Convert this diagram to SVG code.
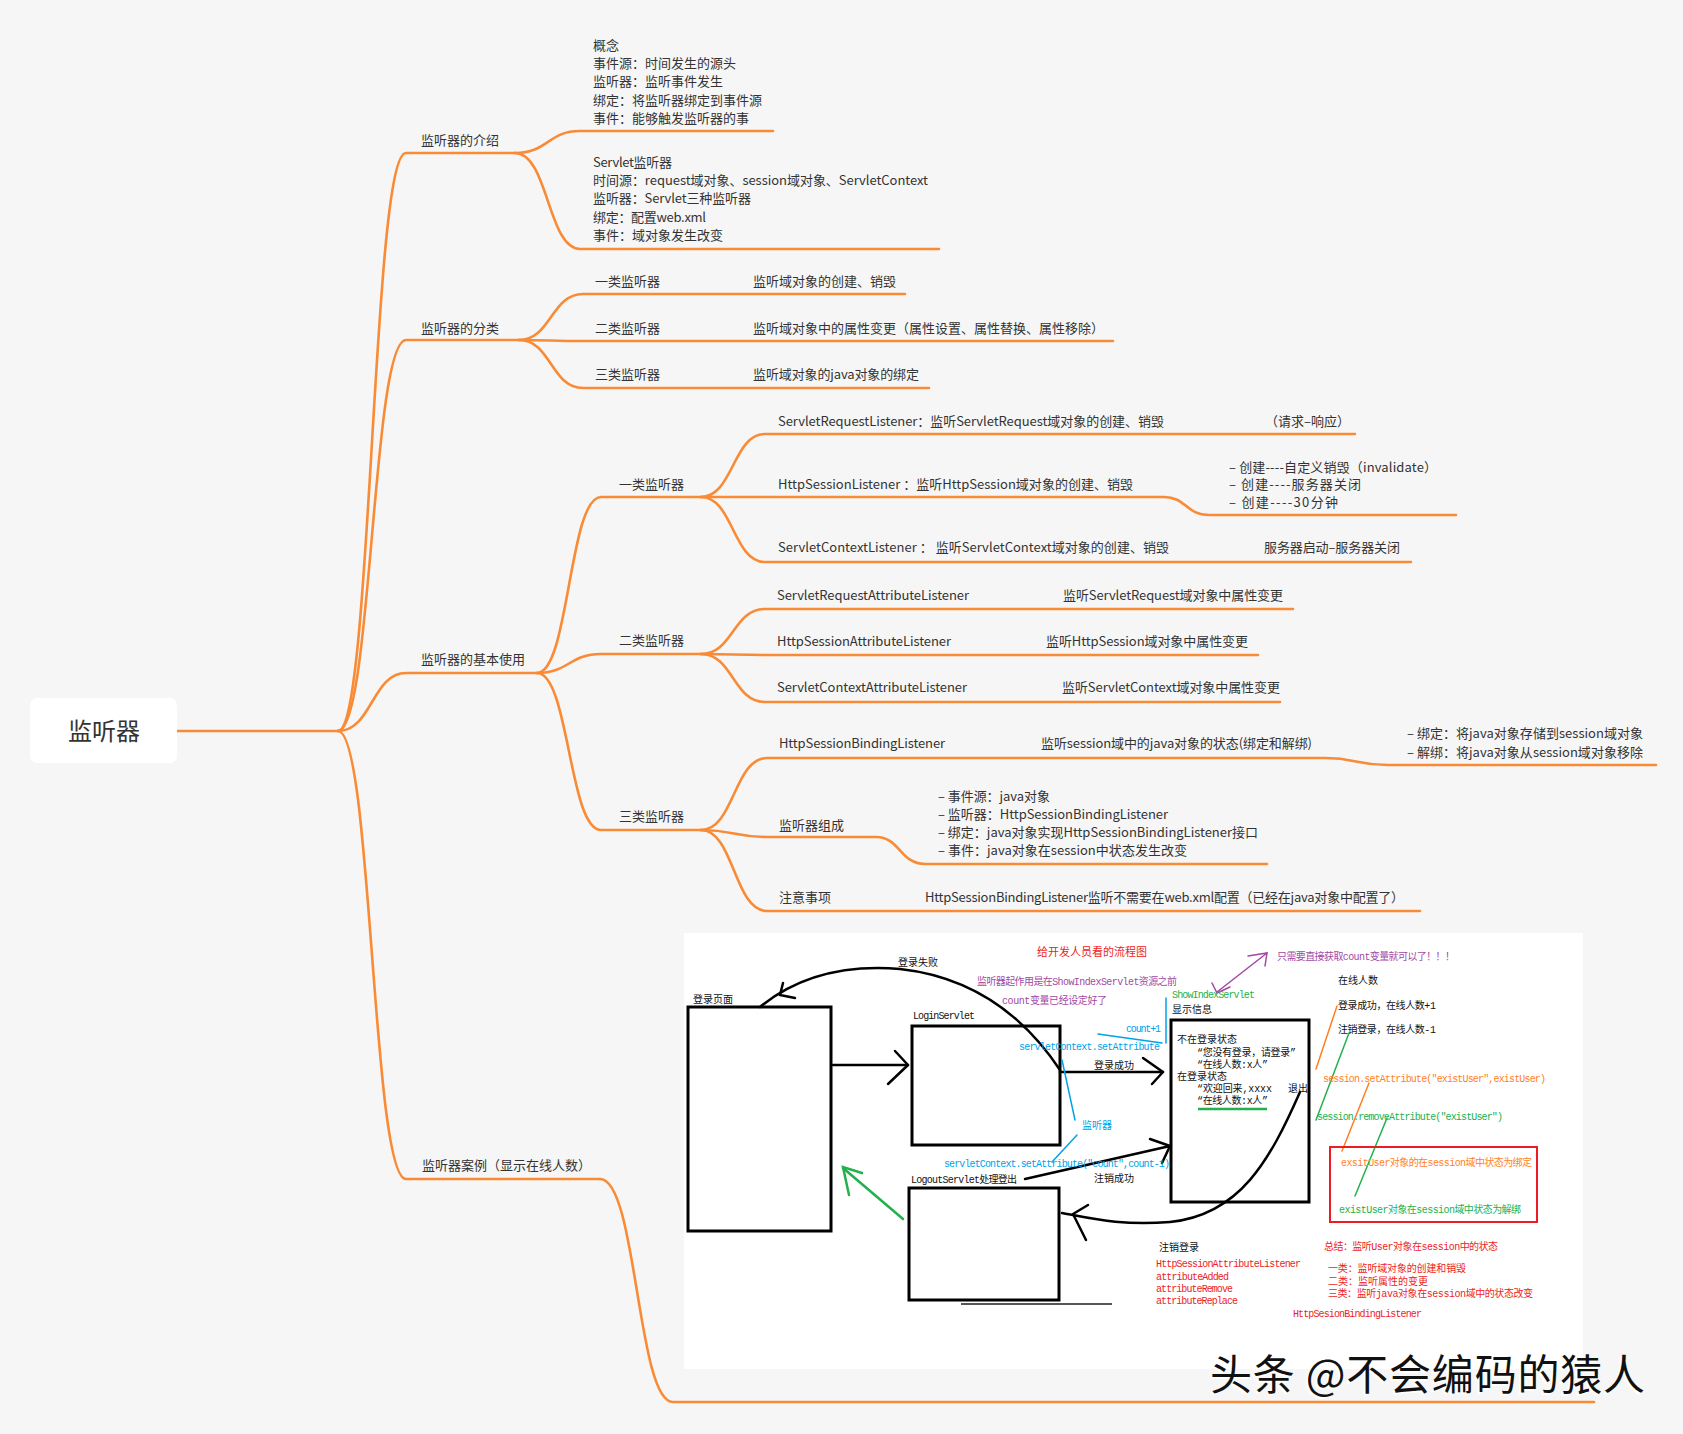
<svg xmlns="http://www.w3.org/2000/svg" width="1683" height="1434" viewBox="0 0 1683 1434">
<style>
.br{fill:none;stroke:#f98b36;stroke-width:2.6;stroke-linecap:round}
.t{font-family:"Noto Sans CJK SC","Liberation Sans",sans-serif;font-size:13px;fill:#333}
.p{font-family:"Liberation Mono","Noto Sans CJK SC",monospace;font-size:10px}
.k{fill:#111}.r{fill:#ed1c24}.pu{fill:#a349a4}.g{fill:#22b14c}.b{fill:#00a2e8}.o{fill:#ff7f27}
.bx{fill:none;stroke:#000;stroke-width:3}
.ln{fill:none;stroke:#000;stroke-width:2.5;stroke-linecap:round;stroke-linejoin:round}
.thin{fill:none;stroke-width:1.5;stroke-linecap:round}
</style>
<rect x="0" y="0" width="1683" height="1434" fill="#f6f6f6"/>

<g id="connectors">
<path class="br" d="M177,731 H338"/>
<path class="br" d="M338,731 C372,731 372,153 406,153 H515"/>
<path class="br" d="M338,731 C372,731 372,340 406,340 H519"/>
<path class="br" d="M338,731 C372,731 372,673 406,673 H537"/>
<path class="br" d="M338,731 C372,731 372,1179 406,1179 H600"/>
<path class="br" d="M515,153 C548,153 548,131 580,131 H773"/>
<path class="br" d="M515,153 C548,153 548,249 580,249 H939"/>
<path class="br" d="M519,340 C551,340 551,294 583,294 H905"/>
<path class="br" d="M519,340 C551,340 551,341 583,341 H1113"/>
<path class="br" d="M519,340 C551,340 551,388 583,388 H929"/>
<path class="br" d="M537,673 C569,673 569,497 601,497 H701"/>
<path class="br" d="M537,673 C569,673 569,654 601,654 H701"/>
<path class="br" d="M537,673 C569,673 569,830 601,830 H701"/>
<path class="br" d="M701,497 C733,497 733,434 765,434 H1355"/>
<path class="br" d="M701,497 C733,497 733,497 765,497 H1164 C1186,497 1186,515 1209,515 H1456"/>
<path class="br" d="M701,497 C733,497 733,562 765,562 H1411"/>
<path class="br" d="M701,654 C733,654 733,609 765,609 H1293"/>
<path class="br" d="M701,654 C733,654 733,655 765,655 H1258"/>
<path class="br" d="M701,654 C733,654 733,702 765,702 H1280"/>
<path class="br" d="M701,830 C734,830 734,758 767,758 H1325 C1356,758 1356,765 1388,765 H1656"/>
<path class="br" d="M701,830 C734,830 734,837 767,837 H876 C900,837 900,864 925,864 H1267"/>
<path class="br" d="M701,830 C734,830 734,911 767,911 H1420"/>
<path class="br" d="M600,1179 C637,1179 637,1402 673,1402 H1594"/>
</g>

<g id="root">
<rect x="30" y="698" width="147" height="65" rx="7" fill="#fff"/>
<text class="t" x="104" y="740" font-size="24" text-anchor="middle" style="font-size:24px">监听器</text>
</g>

<g id="n-intro"><text class="t" x="421" y="145">监听器的介绍</text></g>
<g id="n-intro-concept">
<text class="t" x="593" y="50">概念</text>
<text class="t" x="593" y="68">事件源：时间发生的源头</text>
<text class="t" x="593" y="86">监听器：监听事件发生</text>
<text class="t" x="593" y="105">绑定：将监听器绑定到事件源</text>
<text class="t" x="593" y="123">事件：能够触发监听器的事</text>
</g>
<g id="n-intro-servlet">
<text class="t" x="593" y="167" textLength="79">Servlet监听器</text>
<text class="t" x="593" y="185" textLength="335">时间源：request域对象、session域对象、ServletContext</text>
<text class="t" x="593" y="203" textLength="158">监听器：Servlet三种监听器</text>
<text class="t" x="593" y="222" textLength="113">绑定：配置web.xml</text>
<text class="t" x="593" y="240">事件：域对象发生改变</text>
</g>

<g id="n-class"><text class="t" x="421" y="333">监听器的分类</text></g>
<g id="n-class-1"><text class="t" x="595" y="286">一类监听器</text><text class="t" x="753" y="286">监听域对象的创建、销毁</text></g>
<g id="n-class-2"><text class="t" x="595" y="333">二类监听器</text><text class="t" x="753" y="333">监听域对象中的属性变更（属性设置、属性替换、属性移除）</text></g>
<g id="n-class-3"><text class="t" x="595" y="379">三类监听器</text><text class="t" x="753" y="379" textLength="166">监听域对象的java对象的绑定</text></g>

<g id="n-use"><text class="t" x="421" y="664">监听器的基本使用</text></g>
<g id="n-use-1"><text class="t" x="619" y="489">一类监听器</text></g>
<g id="n-use-1a"><text class="t" x="778" y="426" textLength="386">ServletRequestListener：监听ServletRequest域对象的创建、销毁</text><text class="t" x="1265" y="426">（请求–响应）</text></g>
<g id="n-use-1b"><text class="t" x="778" y="489" textLength="355">HttpSessionListener ：监听HttpSession域对象的创建、销毁</text></g>
<g id="n-use-1b-sub">
<text class="t" x="1229" y="472" textLength="208">– 创建----自定义销毁（invalidate）</text>
<text class="t" x="1229" y="489" textLength="132">– 创建----服务器关闭</text>
<text class="t" x="1229" y="507" textLength="109">– 创建----30分钟</text>
</g>
<g id="n-use-1c"><text class="t" x="778" y="552" textLength="391">ServletContextListener ：  监听ServletContext域对象的创建、销毁</text><text class="t" x="1264" y="552" textLength="136">服务器启动–服务器关闭</text></g>

<g id="n-use-2"><text class="t" x="619" y="645">二类监听器</text></g>
<g id="n-use-2a"><text class="t" x="777" y="600" textLength="192">ServletRequestAttributeListener</text><text class="t" x="1063" y="600" textLength="220">监听ServletRequest域对象中属性变更</text></g>
<g id="n-use-2b"><text class="t" x="777" y="646" textLength="174">HttpSessionAttributeListener</text><text class="t" x="1046" y="646" textLength="202">监听HttpSession域对象中属性变更</text></g>
<g id="n-use-2c"><text class="t" x="777" y="692" textLength="190">ServletContextAttributeListener</text><text class="t" x="1062" y="692" textLength="218">监听ServletContext域对象中属性变更</text></g>

<g id="n-use-3"><text class="t" x="619" y="821">三类监听器</text></g>
<g id="n-use-3a"><text class="t" x="779" y="748" textLength="166">HttpSessionBindingListener</text><text class="t" x="1041" y="748" textLength="271">监听session域中的java对象的状态(绑定和解绑)</text></g>
<g id="n-use-3a-sub">
<text class="t" x="1407" y="738" textLength="236">– 绑定：将java对象存储到session域对象</text>
<text class="t" x="1407" y="757" textLength="236">– 解绑：将java对象从session域对象移除</text>
</g>
<g id="n-use-3b"><text class="t" x="779" y="830">监听器组成</text></g>
<g id="n-use-3b-sub">
<text class="t" x="938" y="801" textLength="112">– 事件源：java对象</text>
<text class="t" x="938" y="819" textLength="230">– 监听器：HttpSessionBindingListener</text>
<text class="t" x="938" y="837" textLength="320">– 绑定：java对象实现HttpSessionBindingListener接口</text>
<text class="t" x="938" y="855" textLength="249">– 事件：java对象在session中状态发生改变</text>
</g>
<g id="n-use-3c"><text class="t" x="779" y="902">注意事项</text><text class="t" x="925" y="902" textLength="479">HttpSessionBindingListener监听不需要在web.xml配置（已经在java对象中配置了）</text></g>

<g id="n-case"><text class="t" x="422" y="1170">监听器案例（显示在线人数）</text></g>

<g id="n-case-image">
<rect x="684" y="933" width="899" height="436" fill="#fff"/>
<rect class="bx" x="688" y="1007" width="143" height="224"/>
<rect class="bx" x="912" y="1026" width="148" height="119"/>
<rect class="bx" x="909" y="1188" width="150" height="112"/>
<rect class="bx" x="1171" y="1020" width="138" height="182"/>
<line x1="961" y1="1304" x2="1112" y2="1304" stroke="#555" stroke-width="2"/>

<path class="ln" d="M1060,1070 Q1000,980 900,969 Q815,962 760,1007"/>
<polyline class="ln" points="783,983 780,995 795,998"/>
<line class="ln" x1="833" y1="1065" x2="908" y2="1065"/>
<polyline class="ln" points="895,1051 908,1065 888,1084"/>
<line class="ln" x1="1060" y1="1072" x2="1163" y2="1072"/>
<polyline class="ln" points="1143,1058 1163,1072 1152,1084"/>
<line class="ln" x1="1025" y1="1179" x2="1170" y2="1146"/>
<polyline class="ln" points="1150,1139 1170,1146 1162,1163"/>
<path class="ln" d="M1300,1092 C1270,1160 1240,1215 1170,1222 C1120,1226 1090,1218 1062,1213"/>
<polyline class="ln" points="1088,1205 1073,1214 1086,1240"/>
<g stroke="#22b14c" class="thin" style="stroke-width:2.5">
<line x1="903" y1="1219" x2="843" y2="1168"/>
<polyline points="862,1173 843,1167 849,1195"/>
</g>
<line x1="1198" y1="1109" x2="1267" y2="1109" stroke="#22b14c" stroke-width="2.5"/>
<g class="thin" stroke="#00a2e8">
<line x1="1166" y1="998" x2="1166" y2="1043"/>
<line x1="1098" y1="1034" x2="1162" y2="1043"/>
<line x1="1062" y1="1060" x2="1075" y2="1120"/>
<line x1="1077" y1="1135" x2="1052" y2="1162"/>
</g>
<g class="thin" stroke="#a349a4">
<line x1="1217" y1="992" x2="1267" y2="953"/>
<polyline points="1248,956 1267,953 1265,966"/>
<polyline points="1212,983 1217,993 1230,987"/>
</g>
<g class="thin" stroke="#ff7f27">
<line x1="1337" y1="1006" x2="1316" y2="1069"/>
<line x1="1369" y1="1083" x2="1342" y2="1151"/>
</g>
<g class="thin" stroke="#22b14c">
<line x1="1349" y1="1033" x2="1316" y2="1120"/>
<line x1="1387" y1="1118" x2="1355" y2="1196"/>
</g>
<rect x="1330" y="1147" width="207" height="75" fill="none" stroke="#ed1c24" stroke-width="2"/>

<text class="p r" x="1037" y="956" style="font-size:11px">给开发人员看的流程图</text>
<text class="p k" x="898" y="966">登录失败</text>
<text class="p k" x="693" y="1003">登录页面</text>
<text class="p k" x="913" y="1019" textLength="62">LoginServlet</text>
<text class="p k" x="1094" y="1069">登录成功</text>
<text class="p pu" x="977" y="985" textLength="200">监听器起作用是在ShowIndexServlet资源之前</text>
<text class="p pu" x="1002" y="1004" textLength="105">count变量已经设定好了</text>
<text class="p pu" x="1277" y="960" textLength="178">只需要直接获取count变量就可以了！！！</text>
<text class="p g" x="1172" y="998" textLength="83">ShowIndexServlet</text>
<text class="p k" x="1172" y="1013">显示信息</text>
<text class="p b" x="1126" y="1032" textLength="35">count+1</text>
<text class="p b" x="1019" y="1050" textLength="141">servletContext.setAttribute</text>
<text class="p b" x="1082" y="1129">监听器</text>
<text class="p b" x="944" y="1167" textLength="226">servletContext.setAttribute("count",count-1)</text>
<text class="p k" x="1177" y="1043">不在登录状态</text>
<text class="p k" x="1197" y="1056" textLength="99">“您没有登录，请登录”</text>
<text class="p k" x="1197" y="1068" textLength="71">“在线人数:x人”</text>
<text class="p k" x="1177" y="1080">在登录状态</text>
<text class="p k" x="1197" y="1092" textLength="75">“欢迎回来,xxxx</text>
<text class="p k" x="1288" y="1092">退出</text>
<text class="p k" x="1197" y="1104" textLength="71">“在线人数:x人”</text>
<text class="p k" x="1338" y="984">在线人数</text>
<text class="p k" x="1338" y="1009" textLength="98">登录成功，在线人数+1</text>
<text class="p k" x="1338" y="1033" textLength="98">注销登录，在线人数-1</text>
<text class="p o" x="1323" y="1082" textLength="223">session.setAttribute("existUser",existUser)</text>
<text class="p g" x="1317" y="1120" textLength="186">session.removeAttribute("existUser")</text>
<text class="p o" x="1341" y="1166" textLength="191">exsitUser对象的在session域中状态为绑定</text>
<text class="p g" x="1339" y="1213" textLength="182">existUser对象在session域中状态为解绑</text>
<text class="p k" x="911" y="1183" textLength="106">LogoutServlet处理登出</text>
<text class="p k" x="1094" y="1182">注销成功</text>
<text class="p k" x="1159" y="1251">注销登录</text>
<text class="p r" x="1156" y="1267" textLength="145">HttpSessionAttributeListener</text>
<text class="p r" x="1156" y="1280" textLength="73">attributeAdded</text>
<text class="p r" x="1156" y="1292" textLength="77">attributeRemove</text>
<text class="p r" x="1156" y="1304" textLength="82">attributeReplace</text>
<text class="p r" x="1324" y="1250" textLength="174">总结：监听User对象在session中的状态</text>
<text class="p r" x="1328" y="1272" textLength="138">一类：监听域对象的创建和销毁</text>
<text class="p r" x="1328" y="1285">二类：监听属性的变更</text>
<text class="p r" x="1328" y="1297" textLength="205">三类：监听java对象在session域中的状态改变</text>
<text class="p r" x="1293" y="1317" textLength="129">HttpSesionBindingListener</text>
</g>

<g id="watermark">
<text x="1208" y="1392" textLength="435" style="font-family:'Noto Sans CJK SC',sans-serif;font-size:42px;fill:#fff">头条 @不会编码的猿人</text>
<text x="1210" y="1390" textLength="435" style="font-family:'Noto Sans CJK SC',sans-serif;font-size:42px;fill:#111">头条 @不会编码的猿人</text>
</g>
</svg>
